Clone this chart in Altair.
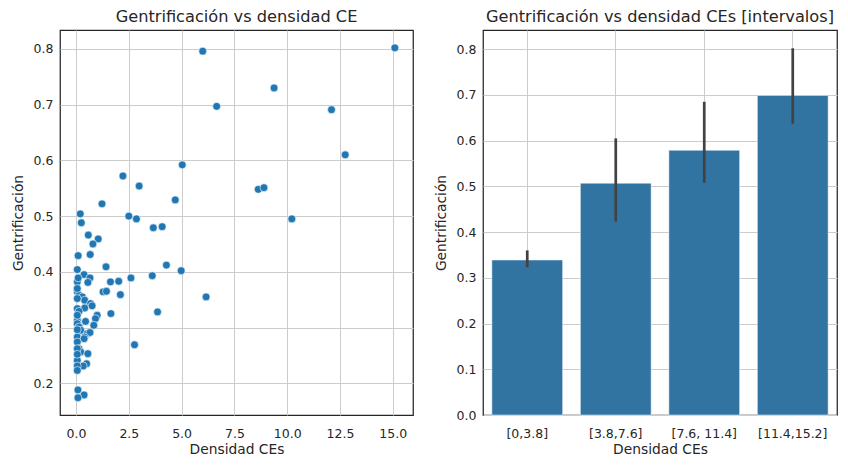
import altair as alt
import pandas as pd

# Scatter data: densidad de CEs vs gentrificación
densidad = [6.0, 15.1, 9.38, 6.66, 12.1, 12.75, 5.03, 2.22, 2.99, 8.63, 8.9, 4.7, 1.23, 0.2, 2.5,
            2.86, 10.22, 0.25, 3.66, 4.08, 0.58, 1.05, 0.8, 0.1, 0.67, 1.42, 4.28, 0.06, 4.98, 3.61,
            0.38, 0.66, 2.6, 2.02, 1.63, 0.06, 0.56, 0.1, 1.28, 1.44, 2.1, 6.16, 0.06, 0.14, 0.3,
            0.41, 0.06, 0.69, 0.76, 0.06, 0.41, 0.14, 1.0, 1.65, 3.86, 0.92, 0.06, 0.45, 0.84, 0.06,
            0.14, 0.22, 0.53, 0.66, 0.06, 0.41, 0.38, 0.06, 2.77, 0.14, 0.22, 0.56, 0.06, 0.5, 0.34,
            0.06, 0.06, 0.09, 0.38, 0.09, 0.06, 0.06, 0.06, 0.06, 0.06]
gentrificacion = [0.796, 0.802, 0.730, 0.697, 0.691, 0.610, 0.592, 0.572, 0.554, 0.548, 0.551, 0.529,
                  0.522, 0.504, 0.500, 0.495, 0.495, 0.488, 0.479, 0.481, 0.466, 0.459, 0.450, 0.429,
                  0.431, 0.409, 0.412, 0.404, 0.402, 0.393, 0.395, 0.389, 0.389, 0.383, 0.382, 0.382,
                  0.381, 0.389, 0.364, 0.365, 0.359, 0.355, 0.364, 0.358, 0.355, 0.349, 0.352, 0.343,
                  0.339, 0.334, 0.335, 0.329, 0.322, 0.325, 0.328, 0.316, 0.313, 0.311, 0.304, 0.307,
                  0.301, 0.295, 0.289, 0.291, 0.283, 0.283, 0.280, 0.274, 0.269, 0.262, 0.256, 0.253,
                  0.241, 0.235, 0.231, 0.231, 0.223, 0.188, 0.179, 0.174, 0.322, 0.296, 0.262, 0.252,
                  0.370]

# Bar data: mean gentrificación per density interval with 95% CI
intervalos = ["[0,3.8]", "[3.8,7.6]", "[7.6, 11.4]", "[11.4,15.2]"]
media = [0.339, 0.507, 0.579, 0.699]
ci_low = [0.323, 0.423, 0.508, 0.637]
ci_high = [0.360, 0.605, 0.685, 0.802]

FONT = "DejaVu Sans"
TXT = "#262626"

scatter_df = pd.DataFrame({"densidad": densidad, "gentrificacion": gentrificacion})
bar_df = pd.DataFrame({"intervalo": intervalos, "media": media, "lo": ci_low, "hi": ci_high})

scatter = alt.Chart(scatter_df, title="Gentrificación vs densidad CE").mark_circle(
    size=62, color="#1f77b4", opacity=1, stroke="white", strokeWidth=0.6
).encode(
    x=alt.X("densidad:Q", title="Densidad CEs",
            scale=alt.Scale(domain=[-0.76, 15.96], nice=False, zero=False),
            axis=alt.Axis(values=[0, 2.5, 5, 7.5, 10, 12.5, 15], format=".1f")),
    y=alt.Y("gentrificacion:Q", title="Gentrificación",
            scale=alt.Scale(domain=[0.143, 0.834], nice=False, zero=False),
            axis=alt.Axis(values=[0.2, 0.3, 0.4, 0.5, 0.6, 0.7, 0.8], format=".1f")),
).properties(width=353, height=385)

xb = alt.X("intervalo:N", title="Densidad CEs", sort=intervalos,
           scale=alt.Scale(paddingInner=0.2, paddingOuter=0.1),
           axis=alt.Axis(labelAngle=0, grid=True, bandPosition=0.5))

bars = alt.Chart(bar_df).mark_bar(color="#3274a1", stroke="white", strokeWidth=0.5).encode(
    x=xb,
    y=alt.Y("media:Q", title="Gentrificación",
            scale=alt.Scale(domain=[0, 0.842], nice=False),
            axis=alt.Axis(values=[0, 0.1, 0.2, 0.3, 0.4, 0.5, 0.6, 0.7, 0.8], format=".1f")),
)
err = alt.Chart(bar_df).mark_rule(color="#424242", strokeWidth=2.7).encode(
    x=xb, y="lo:Q", y2="hi:Q"
)
right = alt.layer(bars, err, title="Gentrificación vs densidad CEs [intervalos]").properties(
    width=354, height=385)

chart = alt.hconcat(scatter, right, spacing=19).properties(
    padding={"left": 2, "top": 0, "right": 2, "bottom": 0}
).configure_view(
    stroke=TXT, strokeWidth=1.25
).configure_axis(
    labelFont=FONT, titleFont=FONT, labelFontSize=12.5, titleFontSize=13.8,
    labelColor=TXT, titleColor=TXT, titleFontWeight="normal",
    domain=False, ticks=False, gridColor="#cccccc", gridWidth=1,
).configure_axisX(
    labelPadding=12, titlePadding=3
).configure_axisY(
    labelPadding=7, titlePadding=8
).configure_title(
    font=FONT, fontSize=16.2, fontWeight="normal", color=TXT, offset=5
)

chart.save("out.html", embed_options={"renderer": "svg", "actions": False})
